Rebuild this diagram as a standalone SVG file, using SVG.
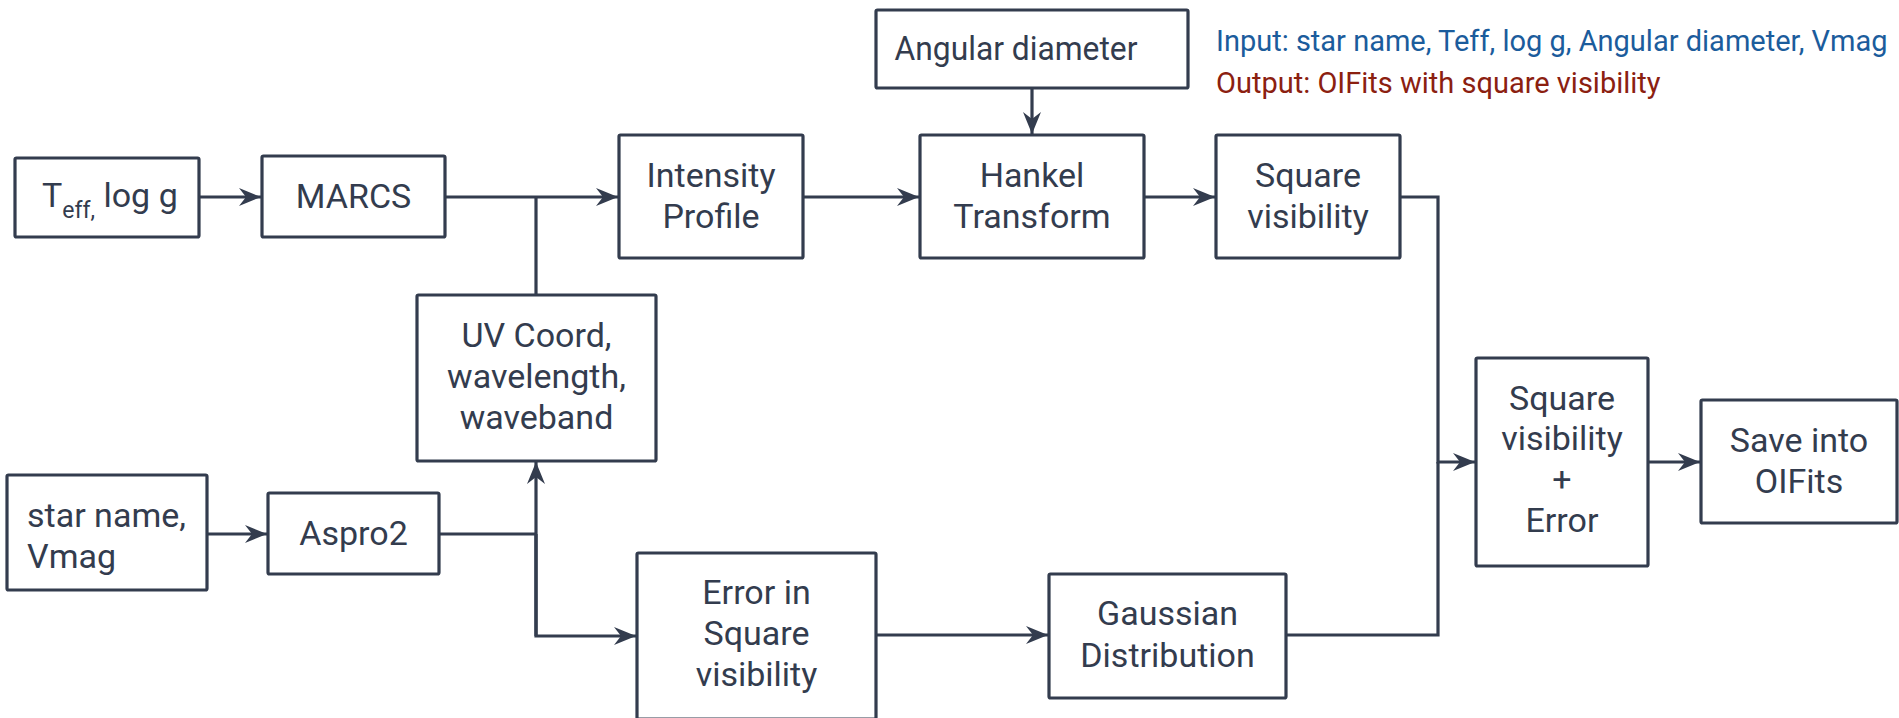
<svg xmlns="http://www.w3.org/2000/svg" width="1899" height="718" viewBox="0 0 1899 718">
<defs>
<style>
.box{fill:#ffffff;stroke:#333c4e;stroke-width:3.2;stroke-linejoin:round}
.t{font-family:Roboto,"Liberation Sans",sans-serif;font-size:34px;fill:#333c4e;text-anchor:middle}
.ts{font-family:Roboto,"Liberation Sans",sans-serif;font-size:34px;fill:#333c4e}
.c{fill:none;stroke:#333c4e;stroke-width:3.2;stroke-linejoin:miter}
.note{font-family:Roboto,"Liberation Sans",sans-serif;font-size:29px}
</style>
<marker id="arr" viewBox="-24 -10 26 20" refX="0" refY="0" markerWidth="26" markerHeight="20" markerUnits="userSpaceOnUse" orient="auto">
<path d="M0,0 L-22,-9 L-15,0 L-22,9 Z" fill="#333c4e"/>
</marker>
</defs>
<rect width="1899" height="718" fill="#ffffff"/>

<g id="connectors">
<path class="c" d="M199,197 H261" marker-end="url(#arr)"/>
<path class="c" d="M445,197 H618" marker-end="url(#arr)"/>
<path class="c" d="M536,197 V295"/>
<path class="c" d="M207,534 H267" marker-end="url(#arr)"/>
<path class="c" d="M439,534 H536"/>
<path class="c" d="M536,636 V462" marker-end="url(#arr)"/>
<path class="c" d="M536,534 V636 H636" marker-end="url(#arr)"/>
<path class="c" d="M803,197 H919" marker-end="url(#arr)"/>
<path class="c" d="M1032,88 V134" marker-end="url(#arr)"/>
<path class="c" d="M1144,197 H1215" marker-end="url(#arr)"/>
<path class="c" d="M1400,197 H1438 V462 H1475" marker-end="url(#arr)"/>
<path class="c" d="M876,635 H1048" marker-end="url(#arr)"/>
<path class="c" d="M1286,635 H1438 V462"/>
<path class="c" d="M1648,462 H1700" marker-end="url(#arr)"/>
</g>

<g id="teff">
<rect class="box" x="15" y="158" width="184" height="79" rx="1.5"/>
<text class="ts" x="42" y="207">T<tspan font-size="23" dy="11">eff,</tspan><tspan dy="-11"> log g</tspan></text>
</g>

<g id="marcs">
<rect class="box" x="262" y="156" width="183" height="81" rx="1.5"/>
<text class="t" x="353.5" y="208">MARCS</text>
</g>

<g id="intensity">
<rect class="box" x="619" y="135" width="184" height="123" rx="1.5"/>
<text class="t" x="711" y="187">Intensity</text>
<text class="t" x="711" y="228">Profile</text>
</g>

<g id="angular">
<rect class="box" x="876" y="10" width="312" height="78" rx="1.5"/>
<text class="t" x="1016" y="60" textLength="243" lengthAdjust="spacingAndGlyphs">Angular diameter</text>
</g>

<g id="hankel">
<rect class="box" x="920" y="135" width="224" height="123" rx="1.5"/>
<text class="t" x="1032" y="187">Hankel</text>
<text class="t" x="1032" y="228">Transform</text>
</g>

<g id="squarevis">
<rect class="box" x="1216" y="135" width="184" height="123" rx="1.5"/>
<text class="t" x="1308" y="187">Square</text>
<text class="t" x="1308" y="228">visibility</text>
</g>

<g id="uv">
<rect class="box" x="417" y="295" width="239" height="166" rx="1.5"/>
<text class="t" x="536.5" y="347">UV Coord,</text>
<text class="t" x="536.5" y="388">wavelength,</text>
<text class="t" x="536.5" y="429">waveband</text>
</g>

<g id="starname">
<rect class="box" x="7" y="475" width="200" height="115" rx="1.5"/>
<text class="ts" x="27" y="527">star name,</text>
<text class="ts" x="27" y="568">Vmag</text>
</g>

<g id="aspro2">
<rect class="box" x="268" y="493" width="171" height="81" rx="1.5"/>
<text class="t" x="353.5" y="545">Aspro2</text>
</g>

<g id="error">
<rect class="box" x="637" y="553" width="239" height="166" rx="1.5"/>
<text class="t" x="756.5" y="604">Error in</text>
<text class="t" x="756.5" y="645">Square</text>
<text class="t" x="756.5" y="686">visibility</text>
</g>

<g id="gaussian">
<rect class="box" x="1049" y="574" width="237" height="124" rx="1.5"/>
<text class="t" x="1167.5" y="625">Gaussian</text>
<text class="t" x="1167.5" y="667">Distribution</text>
</g>

<g id="sverror">
<rect class="box" x="1476" y="358" width="172" height="208" rx="1.5"/>
<text class="t" x="1562" y="410">Square</text>
<text class="t" x="1562" y="450">visibility</text>
<text class="t" x="1562" y="491">+</text>
<text class="t" x="1562" y="532">Error</text>
</g>

<g id="save">
<rect class="box" x="1701" y="400" width="196" height="123" rx="1.5"/>
<text class="t" x="1799" y="452">Save into</text>
<text class="t" x="1799" y="493">OIFits</text>
</g>

<g id="legend">
<text class="note" x="1216" y="51" fill="#1b5c9c">Input: star name, Teff, log g, Angular diameter, Vmag</text>
<text class="note" x="1216" y="93" fill="#8b2010">Output: OIFits with square visibility</text>
</g>
</svg>
